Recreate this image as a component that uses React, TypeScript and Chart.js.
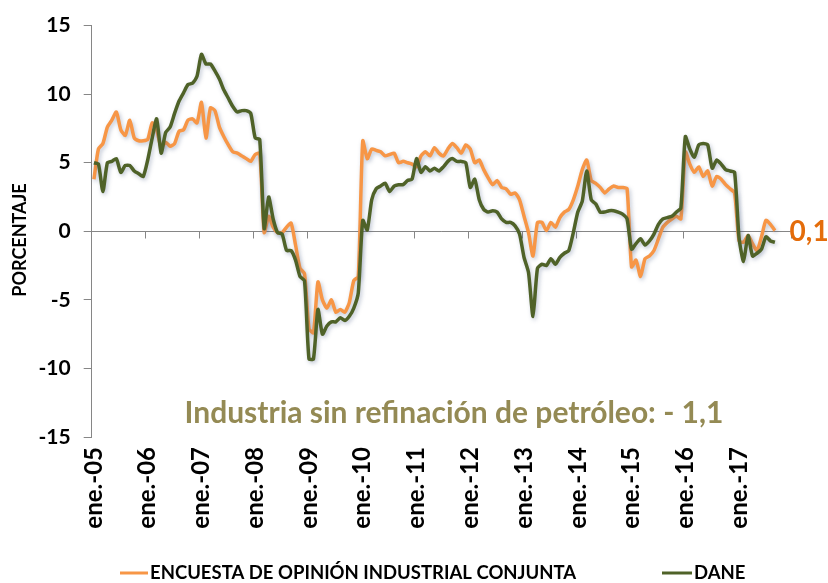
import React, { useEffect, useRef } from "react";
import { Chart, registerables } from "chart.js";

Chart.register(...registerables);

// ---- Data ----
const MONTHS = ["ene.", "feb.", "mar.", "abr.", "may.", "jun.", "jul.", "ago.", "sept.", "oct.", "nov.", "dic."];
const YEARS = ["05", "06", "07", "08", "09", "10", "11", "12", "13", "14", "15", "16", "17"];
const CATEGORIES = YEARS.flatMap((y) => MONTHS.map((m) => `${m}-${y}`));

const Y_TICKS = [-15, -10, -5, 0, 5, 10, 15];

const SERIES_EOIC_NAME = "ENCUESTA DE OPINIÓN INDUSTRIAL CONJUNTA";
const SERIES_DANE_NAME = "DANE";

// Encuesta de Opinión Industrial Conjunta (ene-05 .. sep-17)
const EOIC = [
  3.8, 6.0, 6.4, 7.6, 8.1, 8.7, 7.4, 7.0, 8.1, 6.8, 6.6, 6.6,
  6.7, 7.9, 7.4, 6.1, 6.5, 6.2, 6.4, 7.3, 7.4, 8.1, 8.2, 7.9,
  9.4, 6.8, 9.0, 8.8, 7.6, 6.9, 6.3, 5.8, 5.7, 5.5, 5.3, 5.1,
  5.6, 5.7, -0.1, 1.1, 0.3, -0.1, -0.1, 0.3, 0.6, -1.0, -2.7, -3.1,
  -7.1, -7.4, -3.7, -5.0, -5.6, -5.0, -5.9, -5.7, -5.9, -5.2, -3.6, -3.3,
  6.6, 5.3, 6.0, 5.9, 5.8, 5.5, 5.6, 5.7, 5.0, 5.1, 5.0, 4.9,
  4.7, 5.5, 5.8, 5.5, 6.1, 5.7, 5.5, 6.0, 6.4, 6.1, 5.7, 6.3,
  6.0, 5.0, 5.2, 4.5, 3.9, 3.4, 3.7, 3.2, 3.1, 2.7, 2.8, 2.3,
  1.1, -0.1, -1.8, 0.65, 0.65, 0.05, 0.65, 0.3, 1.0, 1.4, 1.6, 2.3,
  3.3, 4.5, 5.2, 3.7, 3.5, 3.2, 2.8, 3.1, 3.3, 3.2, 3.2, 3.1,
  -2.6, -2.1, -3.3, -2.0, -1.8, -1.4, -0.55, 0.3, 0.65, 0.9, 1.1, 0.9,
  5.8, 4.9, 4.3, 4.7, 4.0, 4.4, 3.3, 4.0, 3.8, 3.4, 3.1, 2.8,
  -0.7, -0.8, -0.3, -0.9, -1.4, -0.4, 0.8, 0.5, 0.05,
];

// DANE (ene-05 .. sep-17)
const DANE = [
  5.0, 4.9, 2.9, 5.0, 5.1, 5.3, 4.3, 4.8, 4.8, 4.4, 4.2, 4.0,
  5.2, 6.8, 8.2, 5.7, 7.2, 7.6, 8.6, 9.5, 10.1, 10.7, 10.8, 11.3,
  12.9, 12.2, 12.2, 11.7, 11.1, 10.3, 9.7, 9.1, 8.7, 8.8, 8.8, 8.6,
  6.8, 6.7, 0.2, 2.5, 0.9, -0.1, -0.2, -1.4, -1.4, -2.1, -3.3, -3.6,
  -9.3, -9.3, -5.7, -7.5, -6.9, -6.6, -6.6, -6.3, -6.5, -6.2, -5.6, -4.5,
  0.8, 0.1, 2.3, 3.1, 3.3, 3.5, 2.9, 3.3, 3.4, 3.4, 3.7, 3.8,
  5.3, 4.3, 4.7, 4.4, 4.6, 4.4, 4.7, 5.1, 5.3, 5.1, 5.1, 5.0,
  3.2, 3.8, 2.3, 1.6, 1.4, 1.5, 1.4, 0.9, 0.65, 0.65, 0.4, -0.2,
  -1.9, -3.0, -6.2, -2.7, -2.4, -2.5, -2.0, -2.4, -1.9, -1.6, -1.4, -0.1,
  1.4, 2.2, 4.4, 2.3, 2.0, 1.4, 1.4, 1.5, 1.5, 1.4, 1.25, 0.9,
  -1.3, -0.9, -0.55, -1.0, -0.7, -0.2, 0.5, 0.9, 1.0, 1.1, 1.4, 1.7,
  6.9, 6.0, 5.4, 6.3, 6.4, 6.3, 4.6, 5.2, 4.9, 4.5, 4.4, 4.3,
  -0.5, -2.2, -0.3, -1.8, -1.6, -1.3, -0.4, -0.7, -0.8,
];

const LAST_EOIC_LABEL = "0,1";
const NOTE_TEXT = "Industria sin refinación de petróleo: - 1,1";
const Y_TITLE = "PORCENTAJE";

// ---- Styles ----
const ORANGE = "#F79646";
const GREEN = "#4F6228";
const AXIS = "#868686";
const NOTE_COLOR = "#948A54";
const LAST_COLOR = "#E46C0A";
const FONT = "Lato, 'Open Sans', sans-serif";

const W = 828;
const H = 583;

const decorPlugin = {
  id: "decor",
  beforeDatasetsDraw(chart: any) {
    const { ctx, chartArea, scales } = chart;
    const xs = scales.x;
    const ys = scales.y;
    const y0 = Math.round(ys.getPixelForValue(0)) + 0.5;
    const half = (xs.getPixelForValue(1) - xs.getPixelForValue(0)) / 2;
    ctx.save();
    ctx.strokeStyle = AXIS;
    ctx.lineWidth = 1;
    ctx.beginPath();
    ctx.moveTo(chartArea.left, y0);
    ctx.lineTo(chartArea.right, y0);
    for (let i = 12; i <= CATEGORIES.length; i += 12) {
      const px = xs.getPixelForValue(i - 1) + half;
      const rx = Math.round(px) + 0.5;
      ctx.moveTo(rx, y0);
      ctx.lineTo(rx, y0 + 7);
    }
    ctx.stroke();
    ctx.restore();
  },
  beforeDatasetDraw(chart: any) {
    const ctx = chart.ctx;
    ctx.save();
    ctx.shadowColor = "rgba(70, 90, 130, 0.35)";
    ctx.shadowBlur = 4;
    ctx.shadowOffsetX = 1.5;
    ctx.shadowOffsetY = 2;
  },
  afterDatasetDraw(chart: any) {
    chart.ctx.restore();
  },
  afterDraw(chart: any) {
    const { ctx, chartArea, scales } = chart;
    const ys = scales.y;
    ctx.save();
    // last-value label
    ctx.fillStyle = LAST_COLOR;
    ctx.font = `bold 28px ${FONT}`;
    ctx.textAlign = "left";
    ctx.textBaseline = "middle";
    ctx.fillText(LAST_EOIC_LABEL, chartArea.right - 1, ys.getPixelForValue(0) + 1);

    // note
    ctx.fillStyle = NOTE_COLOR;
    ctx.font = `bold 30px ${FONT}`;
    ctx.textAlign = "center";
    ctx.fillText(NOTE_TEXT, 454, 413);

    // y title
    ctx.save();
    ctx.translate(20, 240);
    ctx.rotate(-Math.PI / 2);
    ctx.fillStyle = "#000";
    ctx.font = `bold 18px ${FONT}`;
    ctx.textAlign = "center";
    ctx.textBaseline = "middle";
    ctx.fillText(Y_TITLE, 0, 0);
    ctx.restore();

    // legend
    const ly = 573;
    ctx.lineWidth = 3;
    ctx.strokeStyle = ORANGE;
    ctx.beginPath();
    ctx.moveTo(120, ly);
    ctx.lineTo(148, ly);
    ctx.stroke();
    ctx.strokeStyle = GREEN;
    ctx.beginPath();
    ctx.moveTo(662, ly);
    ctx.lineTo(692, ly);
    ctx.stroke();
    ctx.fillStyle = "#000";
    ctx.font = `bold 18.5px ${FONT}`;
    ctx.textAlign = "left";
    ctx.textBaseline = "middle";
    ctx.fillText(SERIES_EOIC_NAME, 150, ly);
    ctx.fillText(SERIES_DANE_NAME, 694, ly);
    ctx.restore();
  },
};

export default function App() {
  const canvasRef = useRef<HTMLCanvasElement | null>(null);

  useEffect(() => {
    const canvas = canvasRef.current;
    if (!canvas) return;
    const chart = new Chart(canvas, {
      type: "line",
      data: {
        labels: CATEGORIES,
        datasets: [
          {
            label: SERIES_EOIC_NAME,
            data: EOIC,
            borderColor: ORANGE,
            backgroundColor: ORANGE,
            borderWidth: 3.5,
            pointRadius: 0,
            tension: 0.2,
            fill: false,
            order: 1,
          },
          {
            label: SERIES_DANE_NAME,
            data: DANE,
            borderColor: GREEN,
            backgroundColor: GREEN,
            borderWidth: 3.5,
            pointRadius: 0,
            tension: 0.2,
            fill: false,
            order: 0,
          },
        ],
      },
      options: {
        responsive: false,
        animation: false,
        events: [],
        layout: { padding: { top: 22, right: 37.4, bottom: 0, left: 0 } },
        plugins: {
          legend: { display: false },
          tooltip: { enabled: false },
          title: { display: false },
        },
        scales: {
          x: {
            type: "category",
            offset: true,
            grid: { display: false, drawTicks: false, offset: true },
            border: { display: false },
            ticks: {
              autoSkip: false,
              maxRotation: 90,
              minRotation: 90,
              padding: 10,
              color: "#000",
              font: { family: FONT, size: 24, weight: "bold" },
              callback: (_v: any, i: number) => (i % 12 === 0 ? CATEGORIES[i] : ""),
            },
            afterFit: (s: any) => {
              s.height = H - 437;
            },
          },
          y: {
            min: -15,
            max: 15,
            afterBuildTicks: (s: any) => {
              s.ticks = Y_TICKS.map((v) => ({ value: v }));
            },
            grid: { display: true, drawOnChartArea: false, drawTicks: true, tickLength: 8, color: AXIS },
            border: { display: true, color: AXIS },
            ticks: {
              padding: 13,
              color: "#000",
              font: { family: FONT, size: 21, weight: "bold" },
            },
            afterFit: (s: any) => {
              s.width = 91.7;
            },
          },
        },
      },
      plugins: [decorPlugin],
    } as any);
    return () => chart.destroy();
  }, []);

  return (
    <div style={{ position: "absolute", left: 0, top: 0, width: W, height: H, background: "#fff" }}>
      <canvas ref={canvasRef} width={W} height={H} style={{ width: W, height: H, display: "block" }} />
    </div>
  );
}
